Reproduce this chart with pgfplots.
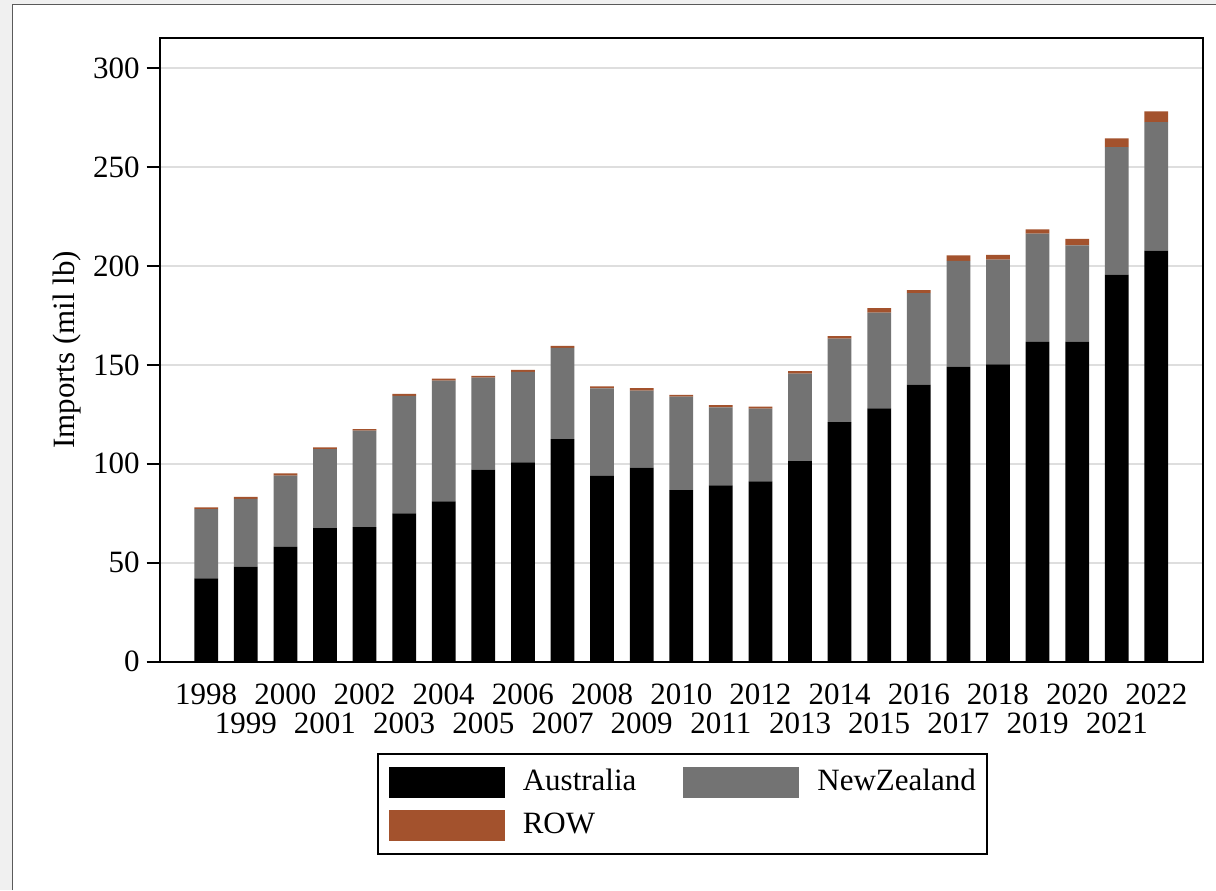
\documentclass[border=0pt]{standalone}
\usepackage{pgfplots}
\pgfplotsset{compat=1.18}
\usepackage{fontspec}
\setmainfont{Liberation Serif}

\definecolor{aus}{RGB}{0,0,0}
\definecolor{nz}{RGB}{115,115,115}
\definecolor{row}{RGB}{163,82,45}
\definecolor{gridc}{RGB}{222,222,222}
\definecolor{pagebg}{RGB}{240,240,240}
\definecolor{frame}{RGB}{90,90,90}

% imports by origin, million lb
\pgfplotstableread{
year aus   nz    row
1998 42.0  35.0  1.0
1999 48.0  34.3  1.0
2000 58.0  36.0  1.1
2001 67.4  40.0  0.9
2002 67.9  48.8  0.8
2003 74.9  59.4  1.0
2004 81.0  61.1  0.9
2005 97.1  46.5  0.8
2006 100.7 45.8  1.0
2007 112.5 46.1  1.0
2008 93.9  44.2  1.1
2009 98.0  39.0  1.2
2010 86.7  47.2  1.0
2011 89.1  39.4  1.1
2012 91.1  36.8  1.0
2013 101.3 44.3  1.2
2014 121.0 42.3  1.2
2015 128.0 48.5  2.2
2016 140.0 46.3  1.5
2017 149.1 53.5  2.8
2018 150.3 52.9  2.5
2019 161.7 54.7  2.2
2020 161.8 48.7  3.2
2021 195.6 64.5  4.4
2022 207.8 65.0  5.4
}\imports

\begin{document}
\fontsize{12.4}{14.9}\selectfont
\begin{tikzpicture}
\useasboundingbox (0,0) rectangle (486.4pt,356pt);
\fill[pagebg] (0,0) rectangle (486.4pt,356pt);
\fill[white] (4.8pt,0) rectangle (486.4pt,354pt);
\draw[frame,line width=0.4pt] (4.8pt,0) -- (4.8pt,354pt) -- (486.4pt,354pt);
\begin{axis}[
  scale only axis,
  width=417.4pt, height=249.3pt,
  at={(63.8pt,91.4pt)}, anchor=south west,
  ybar stacked,
  bar width=0.6,
  xmin=1996.82, xmax=2023.18,
  ymin=0, ymax=315.2,
  xtick={1998,2000,...,2022},
  extra x ticks={1999,2001,...,2021},
  extra x tick style={grid=none, xticklabel style={yshift=-11.6pt}},
  ytick={0,50,...,300},
  ticklabel style={/pgf/number format/1000 sep={}, /pgf/number format/assume math mode=true},
  xticklabel style={yshift=0.4pt},
  yticklabel style={xshift=1.6pt},
  x tick style={draw=none},
  y tick style={black, line width=0.8pt},
  tick align=outside,
  major tick length=5.2pt,
  ytick pos=left,
  ymajorgrids,
  grid style={gridc, line width=0.8pt},
  axis line style={black, line width=0.8pt},
  ylabel={Imports (mil lb)},
  ylabel style={at={(axis description cs:-0.0885,0.5)}, anchor=center},
  legend columns=2,
  legend cell align=left,
  legend image code/.code={\fill[#1] (0pt,-6.2pt) rectangle (46.4pt,6.2pt);},
  legend style={
    at={(0.501,-0.1468)}, anchor=north,
    draw=black, line width=0.8pt,
    inner xsep=4.4pt, inner ysep=5.2pt,
    row sep=4.8pt,
    nodes={inner sep=0pt, anchor=west},
    /tikz/every odd column/.append style={column sep=7.2pt},
    /tikz/every even column/.append style={column sep=18.8pt},
  },
]
\addplot[fill=aus, draw=none] table[x=year, y=aus] {\imports};
\addplot[fill=nz, draw=none] table[x=year, y=nz] {\imports};
\addplot[fill=row, draw=none] table[x=year, y=row] {\imports};
\legend{Australia, NewZealand\hspace{5.2pt}, ROW}
\end{axis}
\end{tikzpicture}
\end{document}
